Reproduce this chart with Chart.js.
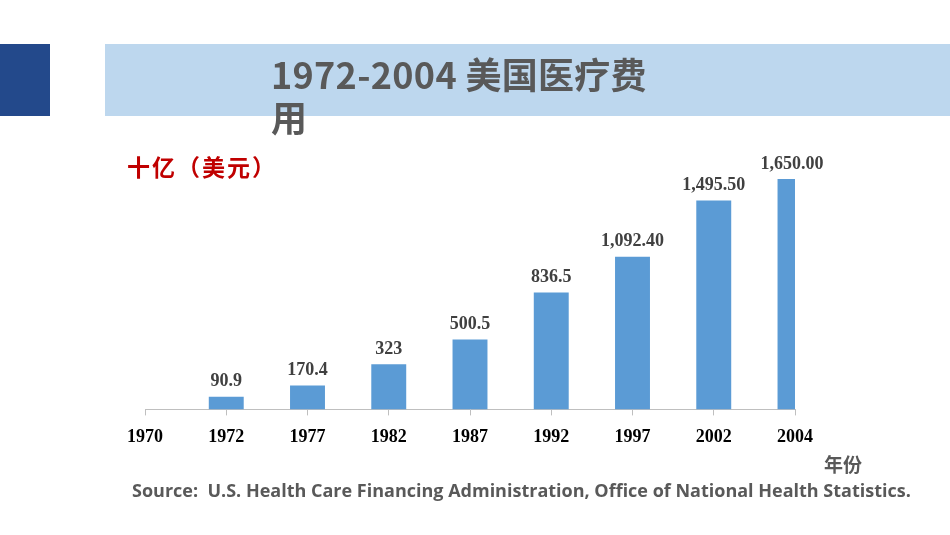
<!DOCTYPE html>
<html>
<head>
<meta charset="utf-8">
<script src="https://cdn.jsdelivr.net/npm/chart.js@4"></script>
<style>
  html, body { margin: 0; padding: 0; background: #fff; }
  body { width: 950px; height: 535px; position: relative; overflow: hidden; }
  .block { position: absolute; }
  #darkBar { left: 0; top: 44px; width: 50px; height: 72px; background: #23498b; }
  #banner { left: 105px; top: 44px; width: 845px; height: 72px; background: #bdd7ee; }
  #title {
    left: 271px; top: 52px;
    font-family: "Noto Sans CJK SC", "Noto Sans", sans-serif;
    font-weight: bold; font-size: 36px; line-height: 43px; color: #595959;
    letter-spacing: 0.3px;
  }
  #unit {
    left: 127px; top: 149px;
    font-family: "Noto Sans CJK SC", sans-serif;
    font-weight: bold; font-size: 23px; color: #c00000; letter-spacing: 2px;
  }
  #xname {
    left: 824px; top: 450px;
    font-family: "Noto Sans CJK SC", sans-serif;
    font-weight: bold; font-size: 19px; color: #595959;
  }
  #source {
    left: 132px; top: 478px;
    font-family: "Open Sans", "Noto Sans", sans-serif;
    font-weight: bold; font-size: 18px; color: #595959; white-space: nowrap;
  }
  #wrap { position: absolute; left: 0; top: 0; width: 950px; height: 535px; }
</style>
</head>
<body>
<div class="block" id="darkBar"></div>
<div class="block" id="banner"></div>
<div id="wrap"><canvas id="costChart"></canvas></div>
<div class="block" id="title">1972-2004 美国医疗费<br>用</div>
<div class="block" id="unit">十亿（美元）</div>
<div class="block" id="xname">年份</div>
<div class="block" id="source">Source:&nbsp; U.S. Health Care Financing Administration, Office of National Health Statistics.</div>

<script>
// years on the axis, 1970 has no bar
const years = ['1970', '1972', '1977', '1982', '1987', '1992', '1997', '2002', '2004'];
// spending, billions of dollars
const spending = [null, 90.9, 170.4, 323, 500.5, 836.5, 1092.4, 1495.5, 1650];

function formatValue(v) {
    if (v >= 1000) {
        return v.toLocaleString('en-US', { minimumFractionDigits: 2, maximumFractionDigits: 2 });
    }
    return String(v);
}

// draws the number above each bar
const valueLabels = {
    id: 'valueLabels',
    afterDatasetsDraw(chart) {
        const ctx = chart.ctx;
        const meta = chart.getDatasetMeta(0);
        ctx.save();
        ctx.font = 'bold 18px "Liberation Serif", "Times New Roman", serif';
        ctx.fillStyle = '#404040';
        ctx.textAlign = 'center';
        ctx.textBaseline = 'bottom';
        meta.data.forEach((bar, i) => {
            const v = spending[i];
            if (v === null) return;
            let x = bar.x;
            if (x > chart.chartArea.right - 10) x -= 3;
            ctx.fillText(formatValue(v), x, bar.y - 6);
        });
        ctx.restore();
    }
};

const ctx = document.getElementById('costChart').getContext('2d');
new Chart(ctx, {
    type: 'bar',
    data: {
        labels: years,
        datasets: [{
            data: spending,
            backgroundColor: '#5b9bd5',
            borderWidth: 0,
            categoryPercentage: 1,
            barPercentage: 0.43
        }]
    },
    options: {
        responsive: true,
        maintainAspectRatio: false,
        animation: false,
        layout: {
            padding: { left: 145, right: 155, top: 158, bottom: 75 }
        },
        plugins: {
            legend: { display: false },
            tooltip: { enabled: false }
        },
        scales: {
            x: {
                offset: false,
                grid: {
                    offset: false,
                    drawOnChartArea: false,
                    drawTicks: true,
                    tickLength: 6,
                    color: '#bfbfbf'
                },
                border: { color: '#bfbfbf', width: 1 },
                ticks: {
                    color: '#000',
                    padding: 11.5,
                    maxRotation: 0,
                    autoSkip: false,
                    font: { family: '"Liberation Serif", "Times New Roman", serif', weight: 'bold', size: 18 }
                }
            },
            y: {
                display: false,
                min: 0,
                max: 1800
            }
        }
    },
    plugins: [valueLabels]
});
</script>
</body>
</html>
